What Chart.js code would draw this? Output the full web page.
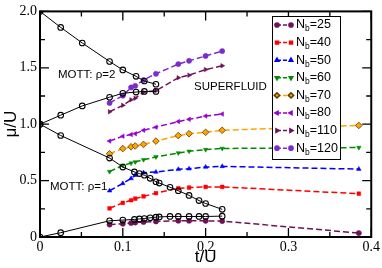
<!DOCTYPE html>
<html>
<head>
<meta charset="utf-8">
<script src="https://cdn.jsdelivr.net/npm/chart.js@4.4.1/dist/chart.umd.min.js"></script>
<style>
html,body{margin:0;padding:0;background:#fff;}
</style>
</head>
<body>
<canvas id="phaseChart" width="382" height="268"></canvas>
<script>
// ---- data ----
const tNb = [0.084, 0.1, 0.11, 0.115, 0.125, 0.14, 0.167, 0.18, 0.2, 0.22];
const tFar = 0.385;

const nb25  = [0.11, 0.118, 0.124, 0.128, 0.133, 0.138, 0.144, 0.144, 0.143, 0.141, 0.035];
const nb40  = [0.254, 0.303, 0.326, 0.34, 0.36, 0.389, 0.432, 0.438, 0.444, 0.444, 0.384];
const nb50  = [0.41, 0.475, 0.519, 0.548, 0.57, 0.576, 0.6, 0.605, 0.62, 0.626, 0.602];
const nb60  = [0.58, 0.635, 0.655, 0.665, 0.685, 0.71, 0.745, 0.76, 0.775, 0.785, 0.793];
const nb70  = [0.738, 0.784, 0.8, 0.807, 0.821, 0.85, 0.899, 0.916, 0.928, 0.946, 0.989];
const nb80  = [0.85, 0.894, 0.908, 0.916, 0.946, 0.974, 1.023, 1.043, 1.072, 1.09];
const nb110 = [1.11, 1.167, 1.216, 1.231, 1.283, 1.296, 1.412, 1.435, 1.484, 1.518];
const nb120 = [1.188, 1.253, 1.326, 1.34, 1.392, 1.447, 1.533, 1.562, 1.605, 1.648];

const tMott1 = [0, 0.025, 0.084, 0.1, 0.114, 0.12, 0.126, 0.133, 0.14, 0.144, 0.157, 0.167, 0.18, 0.192, 0.2, 0.22];
const mott1Upper = [1, 0.9, 0.7, 0.62, 0.577, 0.562, 0.548, 0.52, 0.49, 0.478, 0.441, 0.41, 0.369, 0.323, 0.297, 0.245];
const mott1Lower = [0, 0.038, 0.144, 0.15, 0.156, 0.16, 0.164, 0.17, 0.176, 0.178, 0.182, 0.182, 0.182, 0.182, 0.182, 0.185];

const tMott2 = [0, 0.025, 0.051, 0.084, 0.1, 0.116, 0.126, 0.14];
const mott2Upper = [2, 1.858, 1.72, 1.556, 1.481, 1.424, 1.383, 1.354];
const mott2Lower = [1, 1.08, 1.162, 1.239, 1.274, 1.285, 1.291, 1.291];

const nbLabels = ['25', '40', '50', '60', '70', '80', '110', '120'];
const nbSeries = [nb25, nb40, nb50, nb60, nb70, nb80, nb110, nb120];
const nbColors = ['#6e1257', '#ff0000', '#0000ff', '#008b00', '#ffa500', '#9400d3', '#6e1257', '#7a2ccc'];
const nbShapes = ['circle', 'rect', 'triangle', 'triangle', 'rectRot', 'triangle', 'triangle', 'circle'];
const nbRotate = [0, 0, 0, 180, 0, -90, 90, 0];

const xTicks = [0, 0.1, 0.2, 0.3, 0.4];
const yTicks = [0, 0.5, 1, 1.5, 2];

function pairs(ts, ys){
  return ys.map((y,i)=>({x:ts[i], y:y}));
}

const datasets = [];

// ===== Mott lobes =====
[[tMott2,mott2Upper],[tMott2,mott2Lower],[tMott1,mott1Upper],[tMott1,mott1Lower]].forEach(p=>{
  datasets.push({
    data: pairs(p[0], p[1]),
    showLine: true,
    borderColor: '#000',
    borderWidth: 1,
    pointStyle: 'circle',
    pointRadius: 2.8,
    pointBorderWidth: 1.1,
    pointBorderColor: '#000',
    pointBackgroundColor: 'rgba(0,0,0,0)'
  });
});

// ===== finite size runs =====
nbSeries.forEach((vals,i)=>{
  const ts = vals.length > tNb.length ? tNb.concat([tFar]) : tNb;
  const diamond = nbShapes[i]==='rectRot';
  datasets.push({
    nbLabel: nbLabels[i],
    data: pairs(ts, vals),
    showLine: true,
    borderColor: nbColors[i],
    borderWidth: 1.5,
    borderDash: [6,3],
    pointStyle: nbShapes[i],
    rotation: nbRotate[i],
    pointRadius: diamond ? 3.3 : 2.6,
    pointBorderWidth: diamond ? 0.8 : 0.5,
    pointBorderColor: diamond ? '#5a3a00' : nbColors[i],
    pointBackgroundColor: nbColors[i]
  });
});

const framePlugin = {
  id: 'frame',
  afterDraw(chart){
    const ctx = chart.ctx;
    const a = chart.chartArea;
    const sx = chart.scales.x, sy = chart.scales.y;
    ctx.save();

    // inward ticks on all four sides
    ctx.strokeStyle = '#000';
    ctx.lineWidth = 1.3;
    ctx.beginPath();
    for (let k = 0; k <= 8; k++){
      const px = sx.getPixelForValue(k*0.05);
      const len = k%2===0 ? 9 : 5;
      ctx.moveTo(px, a.bottom); ctx.lineTo(px, a.bottom-len);
      ctx.moveTo(px, a.top); ctx.lineTo(px, a.top+len);
    }
    for (let k = 0; k <= 8; k++){
      const py = sy.getPixelForValue(k*0.25);
      const len = k%2===0 ? 9 : 5;
      ctx.moveTo(a.left, py); ctx.lineTo(a.left+len, py);
      ctx.moveTo(a.right, py); ctx.lineTo(a.right-len, py);
    }
    ctx.stroke();

    ctx.lineWidth = 2;
    ctx.strokeRect(a.left, a.top, a.right-a.left, a.bottom-a.top);

    // labels inside the plot
    ctx.fillStyle = '#000';
    ctx.font = '11.5px "Liberation Sans"';
    ctx.textBaseline = 'middle';
    ctx.textAlign = 'left';
    ctx.fillText('MOTT: \u03c1=2', 58, 75);
    ctx.fillText('MOTT: \u03c1=1', 50, 187);
    ctx.fillText('SUPERFLUID', 194, 87);

    // legend box
    const lx = 272, ly = 16, lw = 68, lh = 143, row = 17.6;
    ctx.fillStyle = '#fff';
    ctx.fillRect(lx, ly, lw, lh);
    ctx.strokeStyle = '#000';
    ctx.lineWidth = 1;
    ctx.strokeRect(lx+0.5, ly+0.5, lw, lh);

    const nbSets = chart.data.datasets.filter(d=>d.nbLabel);
    nbSets.forEach((d,i)=>{
      const cy = ly + 9 + i*row;
      ctx.strokeStyle = d.borderColor;
      ctx.lineWidth = 1.5;
      ctx.setLineDash([4,2]);
      ctx.beginPath();
      ctx.moveTo(277, cy); ctx.lineTo(291, cy);
      ctx.stroke();
      ctx.setLineDash([]);
      [277,291].forEach(px=>{
        ctx.fillStyle = d.pointBackgroundColor;
        ctx.strokeStyle = d.pointBorderColor;
        Chart.helpers.drawPoint(ctx, {
          pointStyle: d.pointStyle,
          radius: d.pointRadius*0.8,
          rotation: d.rotation,
          borderWidth: d.pointBorderWidth
        }, px, cy);
      });
      ctx.fillStyle = '#000';
      let x = 296;
      ctx.font = '12.5px "Liberation Sans"';
      ctx.fillText('N', x, cy);
      x += ctx.measureText('N').width;
      ctx.font = '8.5px "Liberation Sans"';
      ctx.fillText('b', x, cy+4);
      x += ctx.measureText('b').width;
      ctx.font = '12.5px "Liberation Sans"';
      ctx.fillText('=' + d.nbLabel, x, cy);
    });

    ctx.restore();
  }
};

new Chart(document.getElementById('phaseChart'), {
  type: 'scatter',
  data: { datasets: datasets },
  options: {
    responsive: false,
    animation: false,
    layout: { padding: { top: 5, right: 10, left: 0, bottom: 0 } },
    plugins: { legend: { display: false }, tooltip: { enabled: false } },
    scales: {
      x: {
        type: 'linear', min: 0, max: 0.4,
        grid: { display: false, drawTicks: false }, border: { display: false },
        afterBuildTicks(s){ s.ticks = xTicks.map(v=>({value:v})); },
        ticks: { color: '#000', font: { family: 'Liberation Serif', size: 14 }, padding: 2, maxRotation: 0, autoSkip: false },
        title: { display: true, text: 't/U', color: '#000', font: { family: 'Liberation Sans', size: 17 }, padding: { top: 0, bottom: 0 } },
        afterFit(s){ s.height = 31; }
      },
      y: {
        type: 'linear', min: 0, max: 2,
        grid: { display: false, drawTicks: false }, border: { display: false },
        afterBuildTicks(s){ s.ticks = yTicks.map(v=>({value:v})); },
        ticks: { color: '#000', font: { family: 'Liberation Serif', size: 14 }, padding: 3, autoSkip: false },
        title: { display: true, text: '\u03bc/U', color: '#000', font: { family: 'Liberation Sans', size: 17 }, padding: { top: 1, bottom: 0 } },
        afterFit(s){ s.width = 40; }
      }
    }
  },
  plugins: [framePlugin]
});
</script>
</body>
</html>
